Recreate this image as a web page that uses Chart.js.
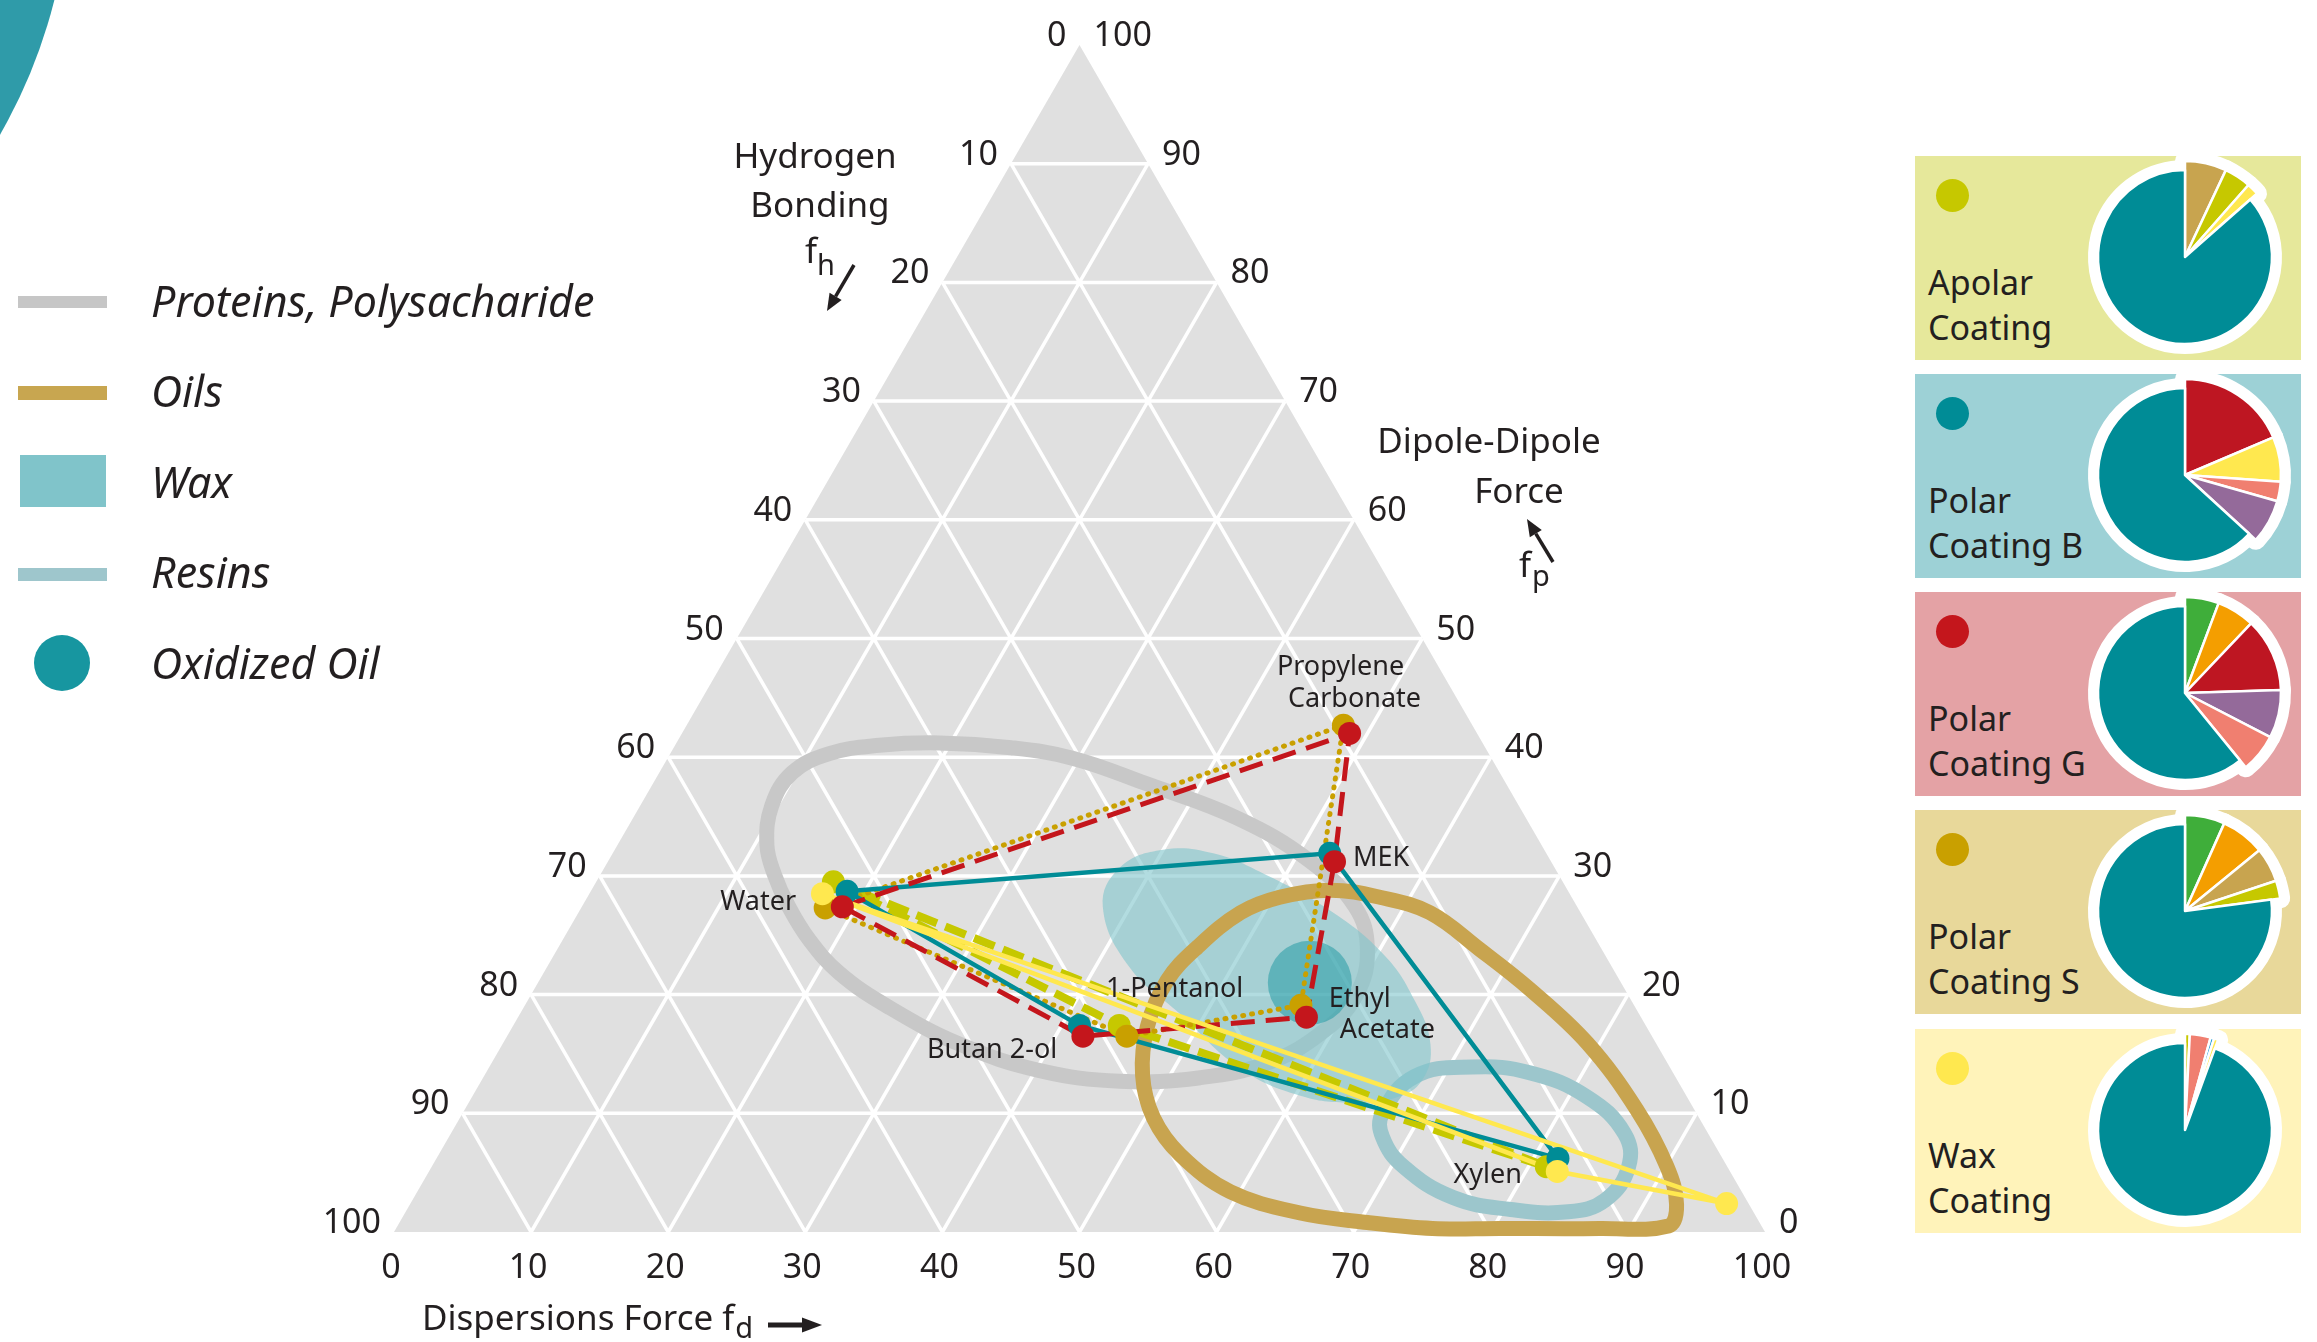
<!DOCTYPE html>
<html>
<head>
<meta charset="utf-8">
<script src="https://cdn.jsdelivr.net/npm/chart.js"></script>
<style>
html,body{margin:0;padding:0;background:#fff;}
body{width:2317px;height:1342px;position:relative;overflow:hidden;font-family:'Noto Sans','Open Sans',sans-serif;color:#231f20;}
#deco{position:absolute;left:-978px;top:-651px;width:1048px;height:1048px;border-radius:50%;background:#2f9ba9;}
#main{position:absolute;left:0;top:0;}
.sw{position:absolute;}
.leg-text{position:absolute;left:151px;font-style:italic;font-size:43px;line-height:43px;white-space:nowrap;color:#231f20;}
.panel{position:absolute;left:1915px;width:386px;height:204px;}
.panel .dot{position:absolute;left:21px;top:23px;width:33px;height:33px;border-radius:50%;}
.panel .name{position:absolute;left:13px;top:104px;font-size:34px;line-height:45px;white-space:nowrap;color:#231f20;}
.panel canvas{position:absolute;left:140px;top:-29px;}
</style>
</head>
<body>
<div id="deco"></div>
<canvas id="main" width="2317" height="1342"></canvas>
<div id="legend"></div>
<div id="panels"></div>
<script>
// ---------------- DATA ----------------
// ternary tick labels
const fdTicks = [0,10,20,30,40,50,60,70,80,90,100];
const fpTicks = [0,10,20,30,40,50,60,70,80,90,100];
const fhTicks = [0,10,20,30,40,50,60,70,80,90,100];
const gridSteps = [10,20,30,40,50,60,70,80,90];

const axisTitles = { fh: ['Hydrogen', 'Bonding'], fp: ['Dipole-Dipole', 'Force'], fd: ['Dispersions Force'] };

// coatings (solvent points as fd / fp fractions, fh = 100 - fd - fp)
const coatingNames = ['Apolar Coating', 'Polar Coating B', 'Polar Coating G', 'Polar Coating S', 'Wax Coating'];

const apolarSolvents = ['Water', '1-Pentanol', 'Xylen'];
const apolarFd = [17.3, 44.2, 81.3];
const apolarFp = [29.5, 17.4, 5.5];

const polarBSolvents = ['Water', 'MEK', 'Xylen', 'Butan 2-ol'];
const polarBFd = [18.7, 52.3, 81.8, 41.3];
const polarBFp = [28.7, 31.9, 6.2, 17.4];

const polarGSolvents = ['Water', 'Propylene Carbonate', 'MEK', 'Ethyl Acetate', 'Butan 2-ol'];
const polarGFd = [19.0, 48.7, 53.0, 57.5, 42.0];
const polarGFp = [27.4, 42.0, 31.2, 18.1, 16.5];

const polarSSolvents = ['Water', 'Propylene Carbonate', 'Ethyl Acetate', '1-Pentanol'];
const polarSFd = [17.8, 47.9, 56.6, 45.2];
const polarSFp = [27.3, 42.7, 19.1, 16.5];

const waxSolvents = ['Water', 'Xylen', ''];
const waxFd = [17.0, 82.3, 96.0];
const waxFp = [28.5, 5.1, 2.4];

// material regions (outline points, fd / fp)
const regionNames = ['Proteins, Polysacharide', 'Oils', 'Wax', 'Resins', 'Oxidized Oil'];

const proteinsFd = [10.9, 9.6, 9.7, 11.6, 14.9, 19.2, 24.6, 29.6, 35.9, 44.0, 51.1, 56.4, 59.1, 60.2, 59.4, 56.7, 52.3, 46.6, 40.3, 33.4, 26.5, 21.6, 18.0, 15.0, 12.7];
const proteinsFp = [32.6, 35.9, 38.7, 40.3, 41.0, 41.2, 40.8, 39.9, 37.8, 34.9, 31.3, 27.4, 23.8, 20.1, 17.0, 14.3, 13.0, 12.7, 13.6, 15.8, 19.0, 21.8, 24.6, 27.5, 30.1];

const oilsFd = [48.0, 46.3, 45.8, 46.6, 48.3, 50.5, 53.9, 57.8, 62.1, 67.3, 72.7, 79.1, 85.5, 90.1, 92.4, 92.7, 87.8, 80.5, 75.6, 70.6, 65.3, 59.3, 54.1, 50.6];
const oilsFp = [13.2, 17.3, 21.2, 24.0, 26.9, 28.2, 28.8, 28.2, 26.9, 23.8, 20.4, 15.9, 10.3, 5.5, 2.3, 0.5, 0.3, 0.3, 0.3, 0.8, 1.6, 3.4, 6.5, 9.6];

const waxRegionFd = [38.0, 37.6, 40.0, 43.8, 48.3, 54.7, 60.6, 64.7, 67.7, 68.6, 67.4, 64.3, 60.3, 54.8, 48.1, 42.5];
const waxRegionFp = [27.4, 30.7, 32.2, 31.9, 30.2, 27.1, 23.3, 19.5, 15.8, 12.8, 11.3, 10.9, 11.5, 13.8, 18.4, 22.3];

const resinsFd = [67.1, 67.9, 71.7, 76.2, 81.3, 85.6, 87.3, 87.0, 84.8, 80.5, 75.8, 70.9, 68.1];
const resinsFp = [10.0, 13.1, 13.9, 13.4, 11.4, 8.3, 5.5, 2.7, 1.7, 1.9, 2.9, 5.5, 8.0];

const oxidizedOilFd = [56.3];
const oxidizedOilFp = [21.0];

// composition pies
const apolarPieParts = ['ochre', 'olive', 'yellow', 'teal'];
const apolarPieValues = [7, 4.5, 2, 86.5];
const polarBPieParts = ['red', 'yellow', 'salmon', 'purple', 'teal'];
const polarBPieValues = [18.6, 7.5, 3.3, 7.4, 63.2];
const polarGPieParts = ['green', 'orange', 'red', 'purple', 'salmon', 'teal'];
const polarGPieValues = [5.7, 6.4, 12.4, 8.1, 6.5, 60.9];
const polarSPieParts = ['green', 'orange', 'ochre', 'olive', 'teal'];
const polarSPieValues = [6.7, 7.4, 5.8, 3.0, 77.1];
const waxPieParts = ['olive', 'salmon', 'blue', 'yellow', 'teal'];
const waxPieValues = [0.8, 3.5, 0.6, 0.7, 94.4];

// ---------------- STYLE ----------------
const FONT = "'Noto Sans', 'Open Sans', sans-serif";
const INK = '#231f20';
const partColors = { ochre:'#c8a44f', olive:'#c6c800', yellow:'#ffe84f', red:'#be1622', salmon:'#f07f70',
  purple:'#946a9a', green:'#3fae3a', orange:'#f49e00', blue:'#1d9ad6', teal:'#008c96' };
const coatingStyle = [
  { color:'#c6c800', width:8, dash:[22,9], cap:'butt', panel:'#e6e89b', lineOrder:55, ptOrder:35 },
  { color:'#008c96', width:4.5, dash:[], cap:'butt', panel:'#9dd1d6', lineOrder:53, ptOrder:33 },
  { color:'#c4161c', width:5, dash:[24,11], cap:'butt', panel:'#e4a2a5', lineOrder:52, ptOrder:32 },
  { color:'#c9a000', width:5, dash:[1,8], cap:'round', panel:'#e8d89a', lineOrder:54, ptOrder:34 },
  { color:'#ffe84f', width:4.5, dash:[], cap:'butt', panel:'#fff3ba', lineOrder:51, ptOrder:31 }
];
const panelTops = [156, 374, 592, 810, 1029];
const legendStyle = [
  { css:'left:18px;top:296px;width:89px;height:12px;background:#c6c6c6;', textTop:279 },
  { css:'left:18px;top:386px;width:89px;height:14px;background:#c8a650;', textTop:369 },
  { css:'left:20px;top:455px;width:86px;height:52px;background:#80c4ca;', textTop:460 },
  { css:'left:18px;top:568px;width:89px;height:13px;background:#9ec6cc;', textTop:550 },
  { css:'left:34px;top:635px;width:56px;height:56px;border-radius:50%;background:#1796a0;', textTop:641 }
];
const solventLabelLayout = {
  'Water': { split:false, align:'right', pos:[[-38,14]] },
  'Propylene Carbonate': { split:true, align:'center', pos:[[-6,-54],[8,-22]] },
  'MEK': { split:false, align:'left', pos:[[21,8]] },
  'Ethyl Acetate': { split:true, align:'left', pos:[[25,-4],[36,27]] },
  '1-Pentanol': { split:false, align:'left', pos:[[-17,-34]] },
  'Butan 2-ol': { split:false, align:'right', pos:[[-24,27]] },
  'Xylen': { split:false, align:'right', pos:[[-32,17]] }
};

// ---------------- BUILD ----------------
const S = Math.sqrt(3) / 2;
const xy = (fd, fp) => ({ x: fd + fp / 2, y: fp * S });
const pts = (fdA, fpA) => fdA.map((d, i) => xy(d, fpA[i]));
const GAP = { x: null, y: null };

const coatingData = [
  { name: coatingNames[0], solvents: apolarSolvents, fd: apolarFd, fp: apolarFp, pie: apolarPieParts, vals: apolarPieValues },
  { name: coatingNames[1], solvents: polarBSolvents, fd: polarBFd, fp: polarBFp, pie: polarBPieParts, vals: polarBPieValues },
  { name: coatingNames[2], solvents: polarGSolvents, fd: polarGFd, fp: polarGFp, pie: polarGPieParts, vals: polarGPieValues },
  { name: coatingNames[3], solvents: polarSSolvents, fd: polarSFd, fp: polarSFp, pie: polarSPieParts, vals: polarSPieValues },
  { name: coatingNames[4], solvents: waxSolvents, fd: waxFd, fp: waxFp, pie: waxPieParts, vals: waxPieValues }
];

const triangle = [xy(fdTicks[0], 0), xy(fdTicks[fdTicks.length - 1], 0), xy(0, fpTicks[fpTicks.length - 1])];
const grid = [];
gridSteps.forEach(k => {
  grid.push(xy(0, k), xy(100 - k, k), GAP);
  grid.push(xy(k, 0), xy(k, 100 - k), GAP);
  grid.push(xy(100 - k, 0), xy(0, 100 - k), GAP);
});

const base = { pointRadius: 0, clip: false, fill: false };
const datasets = [
  { ...base, label: 'triangle', data: triangle, closedPath: true, fill: 'shape', backgroundColor: '#e0e0e0', borderWidth: 0, tension: 0, order: 100 },
  { ...base, label: 'grid', data: grid, borderColor: '#ffffff', borderWidth: 3.5, spanGaps: false, tension: 0, order: 99 },
  { ...base, label: regionNames[3], data: pts(resinsFd, resinsFp), closedPath: true, borderColor: '#9cc6cc', borderWidth: 15, tension: 0.42, order: 90 },
  { ...base, label: regionNames[0], data: pts(proteinsFd, proteinsFp), closedPath: true, borderColor: '#c8c8c8', borderWidth: 15, tension: 0.4, order: 89 },
  { ...base, label: regionNames[2], data: pts(waxRegionFd, waxRegionFp), closedPath: true, fill: 'shape', backgroundColor: 'rgba(127,196,203,0.6)', borderWidth: 0, tension: 0.42, order: 88 },
  { ...base, label: regionNames[1], data: pts(oilsFd, oilsFp), closedPath: true, borderColor: '#c8a44f', borderWidth: 15, tension: 0.38, order: 87 },
  { label: regionNames[4], data: pts(oxidizedOilFd, oxidizedOilFp), showLine: false, clip: false, pointRadius: 42, pointBorderWidth: 0, pointBackgroundColor: 'rgba(23,150,160,0.5)', order: 86 }
];
coatingData.forEach((c, i) => {
  const st = coatingStyle[i];
  datasets.push({ ...base, label: c.name + ' line', data: pts(c.fd, c.fp), closedPath: true, tension: 0,
    borderColor: st.color, borderWidth: st.width, borderDash: st.dash, borderCapStyle: st.cap, order: st.lineOrder });
  datasets.push({ label: c.name, data: pts(c.fd, c.fp), showLine: false, clip: false, pointRadius: 11.5,
    pointBorderWidth: 0, pointBackgroundColor: st.color, order: st.ptOrder });
});

function drawArrow(ctx, x1, y1, x2, y2, w, hl, hw) {
  const a = Math.atan2(y2 - y1, x2 - x1);
  const bx = x2 - hl * Math.cos(a), by = y2 - hl * Math.sin(a);
  ctx.lineWidth = w; ctx.beginPath(); ctx.moveTo(x1, y1); ctx.lineTo(bx, by); ctx.stroke();
  ctx.beginPath(); ctx.moveTo(x2, y2);
  ctx.lineTo(bx + hw / 2 * Math.sin(a), by - hw / 2 * Math.cos(a));
  ctx.lineTo(bx - hw / 2 * Math.sin(a), by + hw / 2 * Math.cos(a));
  ctx.closePath(); ctx.fill();
}

const ternaryPlugin = {
  id: 'ternary',
  afterDatasetUpdate(chart, args) {
    const ds = chart.data.datasets[args.index];
    const line = args.meta.dataset;
    if (ds.closedPath && line) {
      line._loop = true; line._fullLoop = true;
      delete line._segments; delete line._path; line._pointsUpdated = false;
    }
  },
  afterDraw(chart) {
    const ctx = chart.ctx, X = chart.scales.x, Y = chart.scales.y;
    const P = (fd, fp) => ({ x: X.getPixelForValue(fd + fp / 2), y: Y.getPixelForValue(fp * S) });
    ctx.save();
    ctx.fillStyle = INK; ctx.strokeStyle = INK;
    ctx.textBaseline = 'alphabetic';
    ctx.font = '34px ' + FONT;
    ctx.textAlign = 'right';
    fhTicks.forEach(v => { const p = P(0, 100 - v); ctx.fillText(String(v), p.x - 13, p.y + 1); });
    ctx.textAlign = 'left';
    fpTicks.forEach(v => { const p = P(100 - v, v); ctx.fillText(String(v), p.x + 14, p.y + 1); });
    ctx.textAlign = 'center';
    fdTicks.forEach(v => { const p = P(v, 0); ctx.fillText(String(v), p.x - 3, p.y + 46); });

    // axis titles
    ctx.font = '35px ' + FONT;
    ctx.textAlign = 'center';
    ctx.fillText(axisTitles.fh[0], 815, 168);
    ctx.fillText(axisTitles.fh[1], 820, 217);
    ctx.fillText(axisTitles.fp[0], 1489, 453);
    ctx.fillText(axisTitles.fp[1], 1519, 503);
    ctx.textAlign = 'left';
    ctx.fillText('f', 805, 263);
    ctx.fillText('f', 1519, 577);
    const t = axisTitles.fd[0] + ' f';
    ctx.fillText(t, 422, 1330);
    const tw = ctx.measureText(t).width;
    ctx.font = '29px ' + FONT;
    ctx.fillText('h', 817, 275);
    ctx.fillText('p', 1532, 586);
    ctx.fillText('d', 422 + tw + 1, 1338);
    drawArrow(ctx, 854, 265, 827, 311, 3.5, 17, 14);
    drawArrow(ctx, 1553, 562, 1527, 519, 3.5, 17, 14);
    drawArrow(ctx, 768, 1325, 822, 1325, 5, 20, 15);

    // solvent labels
    const anchors = {};
    coatingData.forEach(c => c.solvents.forEach((s, i) => {
      if (!s) return;
      const p = P(c.fd[i], c.fp[i]);
      (anchors[s] = anchors[s] || []).push(p);
    }));
    ctx.font = '27px ' + FONT;
    Object.keys(solventLabelLayout).forEach(name => {
      const L = solventLabelLayout[name], arr = anchors[name];
      if (!arr) return;
      const ax = arr.reduce((a, p) => a + p.x, 0) / arr.length;
      const ay = arr.reduce((a, p) => a + p.y, 0) / arr.length;
      const lines = L.split ? name.split(' ') : [name];
      ctx.textAlign = L.align;
      lines.forEach((ln, j) => ctx.fillText(ln, ax + L.pos[j][0], ay + L.pos[j][1]));
    });
    ctx.restore();
  }
};

new Chart(document.getElementById('main'), {
  type: 'line',
  data: { datasets },
  options: {
    responsive: false, animation: false, events: [],
    layout: { padding: { left: 394, right: 552, top: 45, bottom: 110 } },
    scales: {
      x: { type: 'linear', min: 0, max: 100, display: false },
      y: { type: 'linear', min: 0, max: 100 * S, display: false }
    },
    plugins: { legend: { display: false }, tooltip: { enabled: false } }
  },
  plugins: [ternaryPlugin]
});

// legend (HTML)
const legendEl = document.getElementById('legend');
regionNames.forEach((n, i) => {
  const sw = document.createElement('div'); sw.className = 'sw'; sw.style.cssText = legendStyle[i].css; legendEl.appendChild(sw);
  const tx = document.createElement('div'); tx.className = 'leg-text'; tx.style.top = legendStyle[i].textTop + 'px'; tx.textContent = n; legendEl.appendChild(tx);
});

// pies
const PIE_R = 87, PIE_R_OUT = 96;
const pieRadiusPlugin = {
  id: 'pieRadius',
  afterDatasetsUpdate(chart) {
    chart.data.datasets.forEach((ds, di) => {
      chart.getDatasetMeta(di).data.forEach((arc, i) => {
        arc.innerRadius = 0;
        arc.outerRadius = ds.parts[i] === 'teal' ? PIE_R : PIE_R_OUT;
      });
    });
  }
};
const panelsEl = document.getElementById('panels');
coatingData.forEach((c, i) => {
  const st = coatingStyle[i];
  const p = document.createElement('div'); p.className = 'panel';
  p.style.top = panelTops[i] + 'px'; p.style.background = st.panel;
  const dot = document.createElement('div'); dot.className = 'dot'; dot.style.background = st.color; p.appendChild(dot);
  const nm = document.createElement('div'); nm.className = 'name';
  const sp = c.name.indexOf(' ');
  nm.innerHTML = c.name.slice(0, sp) + '<br>' + c.name.slice(sp + 1);
  p.appendChild(nm);
  const cv = document.createElement('canvas'); cv.width = 260; cv.height = 260; p.appendChild(cv);
  panelsEl.appendChild(p);
  const cols = c.pie.map(k => partColors[k]);
  new Chart(cv, {
    type: 'pie',
    data: { labels: c.pie, datasets: [
      { data: c.vals, parts: c.pie, backgroundColor: cols, borderColor: '#ffffff', borderWidth: 2.5, borderJoinStyle: 'round' },
      { data: c.vals, parts: c.pie, backgroundColor: '#ffffff', borderColor: '#ffffff', borderWidth: 20, borderJoinStyle: 'round' }
    ]},
    options: { responsive: false, animation: false, events: [], layout: { padding: 0 },
      plugins: { legend: { display: false }, tooltip: { enabled: false } } },
    plugins: [pieRadiusPlugin]
  });
});
</script>
</body>
</html>
